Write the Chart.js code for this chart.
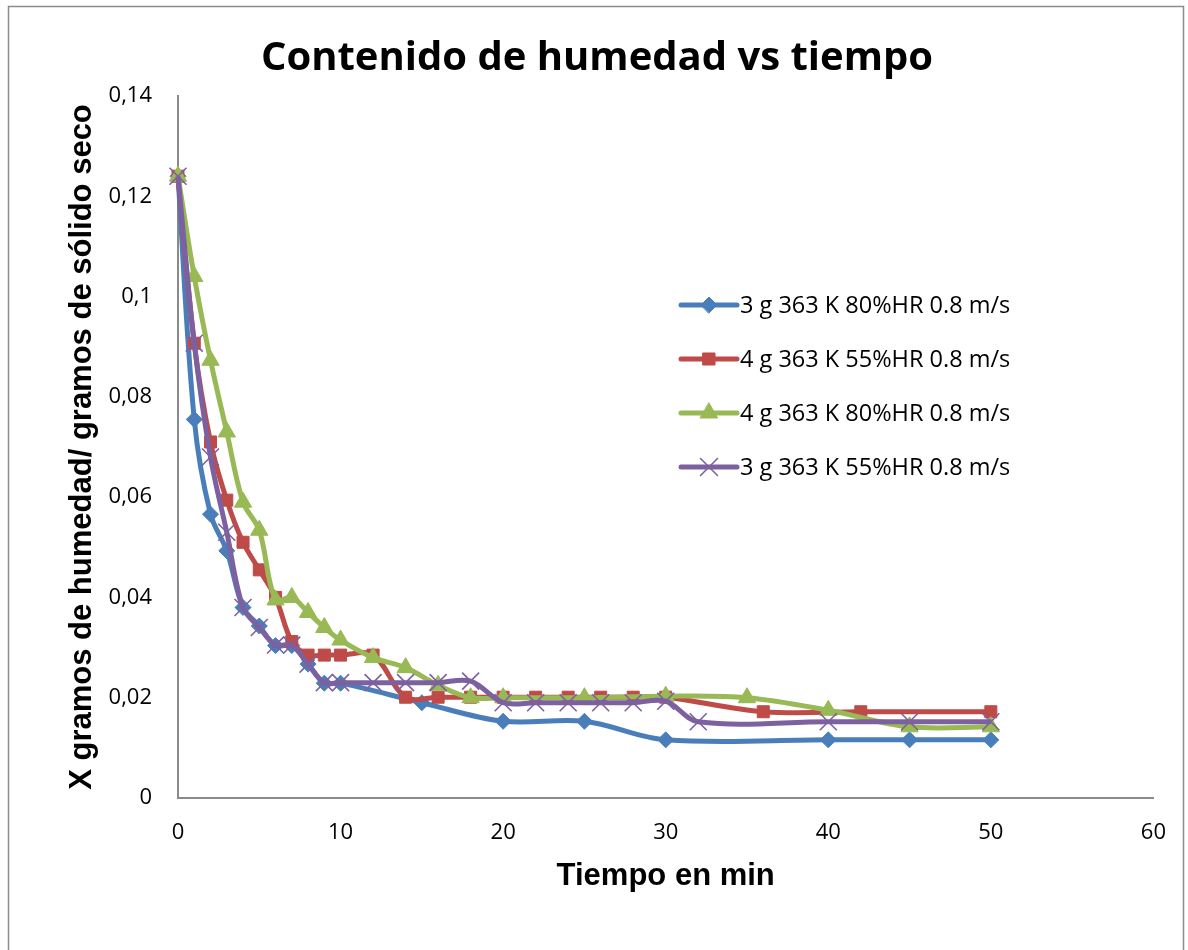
<!DOCTYPE html>
<html lang="es">
<head>
<meta charset="utf-8">
<title>Contenido de humedad vs tiempo</title>
<script src="https://cdn.jsdelivr.net/npm/chart.js@4.4.1/dist/chart.umd.min.js"></script>
<style>
  html, body { margin: 0; padding: 0; background: #fff; }
  #grafica { display: block; }
</style>
</head>
<body>
<canvas id="grafica" width="1188" height="950"></canvas>
<script>
// tiempos de secado (min) y humedad X (g agua / g sólido seco) de cada ensayo
const tiempo3g80 = [0, 1, 2, 3, 4, 5, 6, 7, 8, 9, 10, 15, 20, 25, 30, 40, 45, 50];
const humedad3g80 = [0.124, 0.0755, 0.0566, 0.0493, 0.038, 0.0343, 0.0304, 0.0304, 0.0267, 0.0229, 0.0229,
    0.019, 0.0153, 0.0153, 0.0116, 0.0116, 0.0116, 0.0116];

const tiempo4g55 = [0, 1, 2, 3, 4, 5, 6, 7, 8, 9, 10, 12, 14, 16, 18, 20, 22, 24, 26, 28, 30, 36, 42, 50];
const humedad4g55 = [0.124, 0.0907, 0.071, 0.0594, 0.051, 0.0455, 0.040, 0.0312, 0.0285, 0.0285, 0.0285,
    0.0285, 0.0201, 0.0201, 0.0201, 0.0201, 0.0201, 0.0201, 0.0201, 0.0201, 0.0201, 0.0172, 0.0172, 0.0172];

const tiempo4g80 = [0, 1, 2, 3, 4, 5, 6, 7, 8, 9, 10, 12, 14, 16, 18, 20, 25, 30, 35, 40, 45, 50];
const humedad4g80 = [0.124, 0.104, 0.0873, 0.073, 0.059, 0.0534, 0.0395, 0.040, 0.037, 0.034, 0.0315,
    0.028, 0.026, 0.0225, 0.020, 0.020, 0.020, 0.0203, 0.020, 0.0175, 0.0142, 0.0142];

const tiempo3g55 = [0, 1, 2, 3, 4, 5, 6, 7, 8, 9, 10, 12, 14, 16, 18, 20, 22, 24, 26, 28, 30, 32, 40, 45, 50];
const humedad3g55 = [0.124, 0.0907, 0.068, 0.053, 0.038, 0.034, 0.0305, 0.0305, 0.0267, 0.023, 0.023,
    0.023, 0.023, 0.023, 0.0233, 0.019, 0.019, 0.019, 0.019, 0.019, 0.0193, 0.0152, 0.0152, 0.0152, 0.0152];

const nombresSeries = [
    '3 g 363 K 80%HR 0.8 m/s',
    '4 g 363 K 55%HR 0.8 m/s',
    '4 g 363 K 80%HR 0.8 m/s',
    '3 g 363 K 55%HR 0.8 m/s'
];

const ticksX = ['0', '10', '20', '30', '40', '50', '60'];
const ticksY = ['0', '0,02', '0,04', '0,06', '0,08', '0,1', '0,12', '0,14'];

// une tiempos y humedades en pares {x, y}
function puntos(tiempos, valores) {
    return tiempos.map((t, i) => ({ x: t, y: valores[i] }));
}

function serie(indice, tiempos, valores, color, estilo, radio, grosorMarca, orden) {
    return {
        label: nombresSeries[indice],
        data: puntos(tiempos, valores),
        borderColor: color,
        backgroundColor: color,
        borderWidth: 5,
        tension: 0.35,
        pointStyle: estilo,
        pointRadius: radio,
        pointHoverRadius: radio,
        pointBackgroundColor: color,
        pointBorderColor: color,
        pointBorderWidth: grosorMarca,
        clip: false,
        order: orden
    };
}

// marco gris alrededor del gráfico
const marco = {
    id: 'marco',
    beforeDraw(chart) {
        const ctx = chart.ctx;
        ctx.save();
        ctx.strokeStyle = '#8c8c8c';
        ctx.lineWidth = 1.5;
        ctx.strokeRect(8.5, 6.5, 1175, 980);
        ctx.restore();
    }
};

// el título se centra sobre todo el lienzo, no sólo hasta el margen derecho
const tituloCentrado = {
    id: 'tituloCentrado',
    afterLayout(chart) {
        if (chart.titleBlock) {
            chart.titleBlock.left = 0;
            chart.titleBlock.right = chart.width + 6;
        }
    }
};

// leyenda dentro del área del gráfico
const leyendaInterior = {
    id: 'leyendaInterior',
    afterDraw(chart, args, opts) {
        const ctx = chart.ctx;
        chart.data.datasets.forEach((ds, i) => {
            const y = opts.top + i * opts.rowGap;
            const xc = opts.left + opts.lineLength / 2;
            ctx.save();
            ctx.strokeStyle = ds.borderColor;
            ctx.lineWidth = ds.borderWidth;
            ctx.lineCap = 'round';
            ctx.beginPath();
            ctx.moveTo(opts.left, y);
            ctx.lineTo(opts.left + opts.lineLength, y);
            ctx.stroke();

            ctx.fillStyle = ds.pointBackgroundColor;
            ctx.strokeStyle = ds.pointBorderColor;
            ctx.lineWidth = ds.pointBorderWidth;
            Chart.helpers.drawPoint(ctx, {
                pointStyle: ds.pointStyle,
                radius: ds.pointRadius,
                rotation: 0,
                borderWidth: ds.pointBorderWidth
            }, xc, y);

            ctx.fillStyle = '#000';
            ctx.font = opts.font;
            ctx.textBaseline = 'middle';
            ctx.textAlign = 'left';
            ctx.fillText(ds.label, opts.left + opts.lineLength + opts.textGap, y + 1);
            ctx.restore();
        });
    }
};

const fuenteTicks = { family: "'Open Sans', sans-serif", size: 22 };
const fuenteEje = { family: "'Liberation Sans', Arial, sans-serif", size: 31, weight: 'bold' };

new Chart(document.getElementById('grafica'), {
    type: 'line',
    data: {
        datasets: [
            serie(0, tiempo3g80, humedad3g80, '#4A7EBB', 'rectRot', 8, 1, 4),
            serie(1, tiempo4g55, humedad4g55, '#BE4B48', 'rect', 8.5, 1, 3),
            serie(2, tiempo4g80, humedad4g80, '#98B954', 'triangle', 10, 1, 2),
            serie(3, tiempo3g55, humedad3g55, '#7D60A0', 'crossRot', 12, 1.6, 1)
        ]
    },
    options: {
        responsive: false,
        animation: false,
        events: [],
        color: '#000',
        layout: { padding: { left: 0, right: 31, top: 0, bottom: 0 } },
        plugins: {
            legend: { display: false },
            tooltip: { enabled: false },
            title: {
                display: true,
                text: 'Contenido de humedad vs tiempo',
                color: '#000',
                font: { family: "'Open Sans', sans-serif", size: 40, weight: 'bold' },
                padding: { top: 35, bottom: 13 }
            },
            leyendaInterior: {
                left: 681,
                top: 305,
                rowGap: 54,
                lineLength: 56,
                textGap: 3,
                font: "23.5px 'Open Sans', sans-serif"
            }
        },
        scales: {
            x: {
                type: 'linear',
                min: 0,
                max: 60,
                grid: { display: false, drawTicks: false },
                border: { color: '#8a8a8a', width: 2 },
                ticks: {
                    stepSize: 10,
                    color: '#000',
                    font: fuenteTicks,
                    padding: 22,
                    maxRotation: 0,
                    callback: (v, i) => ticksX[i]
                },
                title: {
                    display: true,
                    text: 'Tiempo en min',
                    color: '#000',
                    font: fuenteEje,
                    padding: { top: 0, bottom: 55 }
                },
                afterFit(scale) { scale.height = 152; }
            },
            y: {
                min: 0,
                max: 0.14,
                grid: { display: false, drawTicks: false },
                border: { color: '#8a8a8a', width: 2 },
                ticks: {
                    stepSize: 0.02,
                    color: '#000',
                    font: fuenteTicks,
                    padding: 26,
                    callback: (v, i) => ticksY[i]
                },
                title: {
                    display: true,
                    text: 'X gramos de humedad/ gramos de sólido seco',
                    color: '#000',
                    font: fuenteEje,
                    padding: { top: 64, bottom: 0 }
                },
                afterFit(scale) { scale.width = 178; }
            }
        }
    },
    plugins: [marco, tituloCentrado, leyendaInterior]
});
</script>
</body>
</html>
